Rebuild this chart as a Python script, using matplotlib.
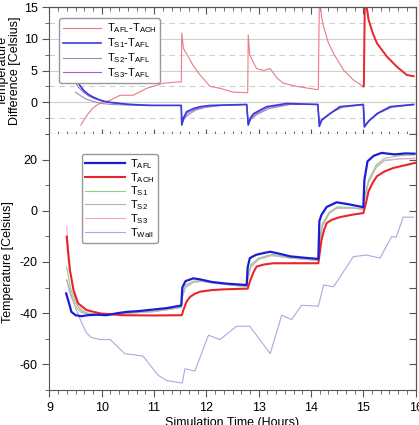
import numpy as np
import matplotlib.pyplot as plt
from matplotlib.ticker import MultipleLocator

plt.rcParams['font.family'] = ['Liberation Sans', 'DejaVu Sans']
plt.rcParams['axes.linewidth'] = 0.8
plt.rcParams['axes.unicode_minus'] = False

# ---- top panel: temperature differences ----
t_afl_ach = [9.6, 9.66, 9.74, 9.82, 9.9, 10.0, 10.16, 10.35, 10.6, 10.86, 11.18, 11.46, 11.52,
             11.53, 11.56, 11.65, 11.76, 11.88, 12.07, 12.26, 12.51, 12.77, 12.79,
             12.8, 12.83, 12.96, 13.1, 13.22, 13.35, 13.47, 13.73, 14.11, 14.14,
             14.16, 14.2, 14.24, 14.33, 14.43, 14.62, 14.81, 15.0,
             15.01, 15.03, 15.1, 15.18, 15.26, 15.45, 15.64, 15.83, 15.96]
v_afl_ach = [-3.6, -2.8, -1.8, -1.0, -0.5, 0.0, 0.3, 1.1, 1.1, 2.2, 3.0, 3.2, 3.2,
             10.9, 8.5, 7.2, 5.6, 4.3, 2.5, 2.2, 1.6, 1.5, 1.5,
             10.6, 7.4, 5.3, 5.0, 5.3, 3.8, 3.0, 2.5, 2.0, 2.0,
             17.0, 13.5, 11.9, 9.4, 7.7, 5.1, 3.5, 2.5,
             2.5, 17.0, 13.0, 10.9, 9.3, 7.2, 5.6, 4.3, 4.1]

t_s1_afl = [9.49, 9.57, 9.65, 9.75, 9.84, 9.95, 10.09, 10.48, 10.9, 11.52,
            11.53, 11.56, 11.62, 11.75, 11.88, 12.07, 12.77,
            12.8, 12.84, 12.9, 13.15, 13.53, 14.13,
            14.16, 14.2, 14.36, 14.55, 15.0,
            15.02, 15.1, 15.26, 15.51, 15.96]
v_s1_afl = [4.0, 2.8, 1.9, 1.2, 0.8, 0.4, 0.05, -0.3, -0.5, -0.5,
            -3.6, -2.5, -1.5, -1.0, -0.7, -0.5, -0.35,
            -3.6, -2.5, -1.8, -0.7, -0.2, -0.35,
            -3.8, -2.8, -1.8, -0.7, -0.35,
            -3.9, -3.0, -1.8, -0.7, -0.35]

t_s2_afl = [9.5, 9.6, 9.7, 9.85, 10.0, 10.2, 10.5, 11.0, 11.52,
            11.53, 11.58, 11.65, 11.8, 12.0, 12.3, 12.77,
            12.8, 12.86, 12.95, 13.2, 13.6, 14.13,
            14.16, 14.22, 14.4, 14.6, 15.0,
            15.03, 15.12, 15.3, 15.55, 15.96]
v_s2_afl = [1.6, 1.0, 0.5, 0.1, -0.2, -0.35, -0.45, -0.5, -0.5,
            -3.4, -2.6, -2.0, -1.2, -0.8, -0.5, -0.35,
            -3.4, -2.6, -2.0, -1.0, -0.35, -0.35,
            -3.5, -2.8, -1.6, -0.8, -0.4,
            -3.6, -2.8, -1.7, -0.8, -0.4]

t_s3_afl = [9.47, 9.55, 9.65, 9.75, 9.85, 10.0, 10.2, 10.5, 11.0, 11.52,
            11.53, 11.57, 11.64, 11.78, 11.95, 12.2, 12.77,
            12.8, 12.85, 12.93, 13.18, 13.6, 14.13,
            14.16, 14.21, 14.38, 14.58, 15.0,
            15.02, 15.11, 15.28, 15.53, 15.96]
v_s3_afl = [3.5, 2.4, 1.6, 1.0, 0.6, 0.2, -0.1, -0.35, -0.5, -0.5,
            -3.5, -2.6, -1.7, -1.1, -0.7, -0.5, -0.35,
            -3.5, -2.6, -1.9, -0.8, -0.3, -0.35,
            -3.7, -2.8, -1.7, -0.7, -0.35,
            -3.8, -2.9, -1.7, -0.7, -0.35]

# ---- bottom panel: temperatures ----
t_afl = [9.32, 9.38, 9.42, 9.5, 9.61, 9.73, 9.9, 10.09, 10.3, 10.48, 10.7, 10.98, 11.25, 11.52,
         11.54, 11.6, 11.75, 11.88, 12.1, 12.4, 12.77,
         12.79, 12.83, 12.95, 13.1, 13.22, 13.4, 13.6, 13.9, 14.14,
         14.16, 14.2, 14.3, 14.49, 14.7, 14.9, 15.0,
         15.02, 15.08, 15.2, 15.35, 15.6, 15.8, 15.98]
v_afl = [-32.3, -36.5, -39.5, -40.8, -41.2, -40.8, -40.6, -40.8, -40.0, -39.5, -39.2, -38.6, -38.0, -37.0,
         -30.0, -27.5, -26.4, -26.8, -27.8, -28.5, -29.0,
         -22.0, -18.5, -17.2, -16.5, -16.0, -16.8, -17.8, -18.4, -18.8,
         -4.0, -1.6, 1.5, 3.3, 2.6, 1.8, 1.4,
         12.0, 19.3, 21.5, 22.6, 22.0, 22.4, 22.3]

t_ach = [9.33, 9.36, 9.39, 9.46, 9.55, 9.71, 9.97, 10.4, 11.0, 11.53,
         11.56, 11.62, 11.69, 11.78, 11.88, 12.1, 12.32, 12.79,
         12.83, 12.9, 12.96, 13.1, 13.28, 13.7, 14.14,
         14.2, 14.25, 14.3, 14.4, 14.55, 14.8, 15.0,
         15.05, 15.1, 15.18, 15.26, 15.4, 15.57, 15.8, 15.99]
v_ach = [-10.1, -17.0, -23.0, -31.0, -36.2, -38.8, -40.1, -40.8, -40.9, -40.8,
         -38.8, -35.5, -33.6, -32.4, -31.6, -31.0, -30.7, -30.4,
         -27.7, -24.0, -21.8, -21.0, -20.5, -20.5, -20.5,
         -11.4, -7.5, -4.8, -3.5, -2.5, -1.5, -0.9,
         3.0, 7.6, 11.0, 13.5, 15.3, 16.7, 17.8, 18.7]

t_s1 = [9.33, 9.4, 9.5, 9.6, 9.75, 9.95, 10.3, 10.7, 11.0, 11.52,
        11.54, 11.6, 11.75, 11.9, 12.2, 12.77,
        12.79, 12.85, 13.0, 13.25, 13.6, 14.14,
        14.16, 14.22, 14.35, 14.5, 14.8, 15.0,
        15.02, 15.1, 15.25, 15.4, 15.7, 15.98]
v_s1 = [-22.0, -30.0, -36.0, -39.0, -40.3, -40.6, -40.2, -39.6, -39.2, -37.6,
        -33.0, -29.0, -27.5, -27.3, -28.3, -29.5,
        -26.0, -21.0, -18.5, -17.0, -18.2, -19.3,
        -12.0, -5.0, -0.5, 1.5, 1.2, 0.8,
        5.0, 12.0, 18.0, 20.5, 21.5, 21.8]

t_s2 = [9.33, 9.4, 9.5, 9.6, 9.75, 9.95, 10.3, 10.7, 11.0, 11.52,
        11.54, 11.6, 11.75, 11.9, 12.2, 12.77,
        12.79, 12.85, 13.0, 13.25, 13.6, 14.14,
        14.16, 14.22, 14.35, 14.5, 14.8, 15.0,
        15.02, 15.1, 15.25, 15.4, 15.7, 15.98]
v_s2 = [-27.0, -33.0, -37.5, -39.6, -40.5, -40.7, -40.3, -39.8, -39.4, -37.8,
        -34.0, -30.0, -28.0, -27.6, -28.5, -29.6,
        -27.0, -22.0, -19.0, -17.5, -18.5, -19.4,
        -13.0, -6.0, -1.0, 1.0, 1.0, 0.6,
        4.0, 11.0, 17.0, 19.5, 20.3, 20.5]

t_s3 = [9.33, 9.36, 9.4, 9.47, 9.55, 9.7, 9.95, 10.3, 10.7, 11.0, 11.52,
        11.54, 11.6, 11.75, 11.9, 12.2, 12.77,
        12.79, 12.85, 13.0, 13.25, 13.6, 14.14,
        14.16, 14.22, 14.35, 14.5, 14.8, 15.0,
        15.02, 15.1, 15.25, 15.4, 15.7, 15.98]
v_s3 = [-6.0, -14.0, -24.0, -33.0, -37.5, -39.8, -40.6, -40.3, -39.8, -39.4, -37.8,
        -33.5, -29.5, -27.8, -27.5, -28.4, -29.6,
        -26.5, -21.5, -18.8, -17.3, -18.4, -19.4,
        -12.5, -5.5, -0.8, 1.2, 1.0, 0.6,
        4.5, 11.5, 17.5, 19.8, 20.3, 20.3]

t_wall = [9.33, 9.42, 9.5, 9.6, 9.7, 9.8, 9.97, 10.16, 10.44, 10.6, 10.79, 11.08, 11.24, 11.5,
          11.54, 11.59, 11.78, 12.04, 12.26, 12.58, 12.83, 13.22, 13.44, 13.63, 13.82, 14.14,
          14.24, 14.43, 14.62, 14.81, 15.06, 15.32, 15.54, 15.63, 15.76, 15.96]
v_wall = [-27.0, -33.0, -38.0, -43.0, -47.5, -49.5, -50.3, -50.3, -55.8, -56.2, -56.8, -64.3, -66.3, -67.2,
          -67.2, -61.7, -62.6, -48.6, -50.3, -45.1, -45.1, -55.8, -40.8, -42.5, -36.9, -37.3,
          -29.0, -29.7, -23.8, -17.9, -17.3, -18.5, -10.1, -10.3, -2.5, -2.5]

fig = plt.figure(figsize=(4.19, 4.25), dpi=100)
ax1 = fig.add_axes([0.118, 0.6847, 0.874, 0.2988])
ax2 = fig.add_axes([0.118, 0.0824, 0.874, 0.6024])

tick_col = '#555555'
fs = 9

# top panel
ax1.plot(t_afl_ach, v_afl_ach, color='#ec7a86', lw=0.8)
t_arr = np.array(t_afl_ach)
v_arr = np.array(v_afl_ach)
late = t_arr >= 15.0
ax1.plot(t_arr[late], v_arr[late], color='#e82830', lw=1.4)
ax1.plot(t_s2_afl, v_s2_afl, color='#9890b0', lw=0.8)
ax1.plot(t_s3_afl, v_s3_afl, color='#a060d0', lw=0.8)
ax1.plot(t_s1_afl, v_s1_afl, color='#3a3ae0', lw=1.2)
h = ax1.get_lines()
ax1.legend([h[0], h[4], h[2], h[3]],
           [r'T$_\mathregular{AFL}$-T$_\mathregular{ACH}$', r'T$_\mathregular{S1}$-T$_\mathregular{AFL}$',
            r'T$_\mathregular{S2}$-T$_\mathregular{AFL}$', r'T$_\mathregular{S3}$-T$_\mathregular{AFL}$'],
           loc='upper left', bbox_to_anchor=(0.012, 0.955), fontsize=8, handlelength=3.4,
           labelspacing=0.1, borderpad=0.3, handletextpad=0.6, edgecolor='#999999',
           framealpha=1, fancybox=True)
ax1.set_xlim(9, 16)
ax1.set_ylim(-5, 15)
ax1.set_yticks([0, 5, 10, 15])
ax1.yaxis.set_minor_locator(MultipleLocator(2.5))
ax1.xaxis.set_major_locator(MultipleLocator(1))
ax1.xaxis.set_minor_locator(MultipleLocator(1 / 6))
ax1.grid(True, which='major', axis='y', color='#cfcfcf', lw=0.8)
ax1.grid(True, which='minor', axis='y', color='#cfcfcf', lw=0.8, ls=(0, (5, 4)))
ax1.set_axisbelow(True)
ax1.tick_params(axis='x', which='both', labelbottom=False, direction='inout', colors=tick_col)
ax1.tick_params(axis='x', which='major', length=7)
ax1.tick_params(axis='x', which='minor', length=5)
ax1.tick_params(axis='y', which='both', direction='out', colors=tick_col, labelsize=fs, labelcolor='black')
ax1.tick_params(axis='y', which='major', length=5)
ax1.tick_params(axis='y', which='minor', length=3)
sec = ax1.secondary_xaxis('top')
sec.xaxis.set_major_locator(MultipleLocator(1))
sec.xaxis.set_minor_locator(MultipleLocator(1 / 6))
sec.tick_params(which='both', direction='in', labeltop=False, colors=tick_col)
sec.tick_params(which='major', length=5)
sec.tick_params(which='minor', length=3)
sec.spines['top'].set_color(tick_col)
secy = ax1.secondary_yaxis('right')
secy.yaxis.set_major_locator(MultipleLocator(5))
secy.yaxis.set_minor_locator(MultipleLocator(2.5))
secy.tick_params(which='both', direction='in', labelright=False, colors=tick_col)
secy.tick_params(which='major', length=5)
secy.tick_params(which='minor', length=3)
for s in ax1.spines.values():
    s.set_color(tick_col)
ax1.set_ylabel('Temperature\nDifference [Celsius]', fontsize=fs, linespacing=1.0)
ax1.yaxis.set_label_coords(-0.078, 0.5)

# bottom panel
ax2.plot(t_wall, v_wall, color='#b9a2dc', lw=0.8)
ax2.plot(t_s2, v_s2, color='#b4b4b4', lw=0.8)
ax2.plot(t_s3, v_s3, color='#f4a6cc', lw=0.8)
ax2.plot(t_s1, v_s1, color='#8ed08e', lw=0.8)
ax2.plot(t_ach, v_ach, color='#e8262a', lw=1.5)
ax2.plot(t_afl, v_afl, color='#1c1cd8', lw=1.6)
h2 = ax2.get_lines()
ax2.legend([h2[5], h2[4], h2[3], h2[1], h2[2], h2[0]],
           [r'T$_\mathregular{AFL}$', r'T$_\mathregular{ACH}$', r'T$_\mathregular{S1}$',
            r'T$_\mathregular{S2}$', r'T$_\mathregular{S3}$', r'T$_\mathregular{Wall}$'],
           loc='upper left', bbox_to_anchor=(0.073, 0.945), fontsize=8, handlelength=3.6,
           labelspacing=0.0, borderpad=0.3, handletextpad=0.4, edgecolor='#999999',
           framealpha=1, fancybox=True)
ax2.set_xlim(9, 16)
ax2.set_ylim(-70, 30)
ax2.set_yticks([-60, -40, -20, 0, 20])
ax2.yaxis.set_minor_locator(MultipleLocator(10))
ax2.xaxis.set_major_locator(MultipleLocator(1))
ax2.xaxis.set_minor_locator(MultipleLocator(1 / 6))
ax2.spines['top'].set_visible(False)
ax2.tick_params(axis='x', which='both', direction='out', colors=tick_col, labelsize=fs, labelcolor='black')
ax2.tick_params(axis='x', which='major', length=5)
ax2.tick_params(axis='x', which='minor', length=3)
ax2.tick_params(axis='y', which='both', direction='out', colors=tick_col, labelsize=fs, labelcolor='black')
ax2.tick_params(axis='y', which='major', length=5)
ax2.tick_params(axis='y', which='minor', length=3)
secy2 = ax2.secondary_yaxis('right')
secy2.yaxis.set_major_locator(MultipleLocator(10))
secy2.tick_params(which='both', direction='in', labelright=False, colors=tick_col, length=5)
secy2.spines['right'].set_color(tick_col)
for s in ax2.spines.values():
    s.set_color(tick_col)
ax2.set_ylabel('Temperature [Celsius]', fontsize=fs)
ax2.yaxis.set_label_coords(-0.098, 0.5)
ax2.set_xlabel('Simulation Time (Hours)', fontsize=fs, labelpad=2)

fig.savefig('out.png', dpi=100)
